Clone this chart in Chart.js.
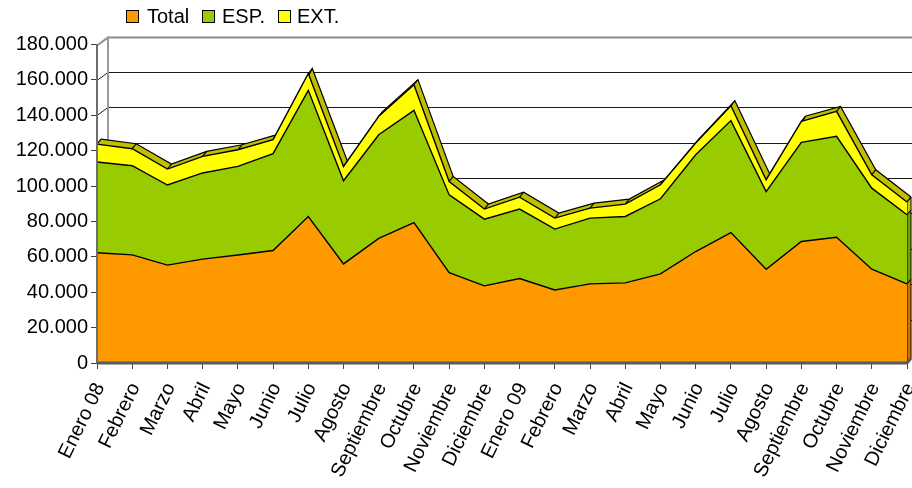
<!DOCTYPE html>
<html>
<head>
<meta charset="utf-8">
<script src="https://cdn.jsdelivr.net/npm/chart.js@4.4.1/dist/chart.umd.min.js"></script>
<style>
  html, body { margin: 0; padding: 0; background: #fff; }
  #wrap { width: 912px; height: 488px; }
</style>
</head>
<body>
<div id="wrap"><canvas id="chart" width="912" height="488"></canvas></div>
<script>
// ── DATA ──
const months = [
    'Enero 08','Febrero','Marzo','Abril','Mayo','Junio','Julio','Agosto','Septiembre','Octubre','Noviembre','Diciembre',
    'Enero 09','Febrero','Marzo','Abril','Mayo','Junio','Julio','Agosto','Septiembre','Octubre','Noviembre','Diciembre'
];
const seriesNames = ['Total', 'ESP.', 'EXT.'];
const totalValues = [62300, 61100, 55300, 58700, 61000, 63600, 82800, 56000, 70400, 79400, 51100, 43600,
                     47700, 41300, 44700, 45300, 50400, 63000, 73700, 53000, 68700, 71100, 53000, 44700];
const espValues   = [51300, 50400, 45300, 48700, 50100, 54700, 71300, 47000, 58600, 63400, 43900, 37700,
                     39300, 34400, 37200, 37500, 42400, 54700, 63300, 43900, 56000, 57000, 45800, 39100];
const extValues   = [10100, 9600, 9000, 9400, 9400, 7900, 9500, 8100, 10400, 14500, 7600, 5700,
                     6700, 6200, 5600, 7000, 7900, 6600, 8400, 6700, 11900, 14100, 7600, 7200];
const yMin = 0, yMax = 180000, yStep = 20000;

// ── STYLE ──
const FONT = "'Liberation Sans', Arial, sans-serif";
const colors = ['#FF9900', '#99CC00', '#FFFF00'];
const sideColors = ['#C87800', '#76A000', '#C8C800'];
const depthColor = '#BFBF00';
const WALL_DX = 11, WALL_DY = -8;   // back wall offset
const SER_DX = 4, SER_DY = -5;      // series slab depth

function fmt(v) {
    return String(v).replace(/\B(?=(\d{3})+(?!\d))/g, '.');
}

// ── 3D-ish DECORATION ──
const depthPlugin = {
    id: 'depth',
    beforeDatasetsDraw(chart) {
        const { ctx, chartArea: a, scales: { y } } = chart;
        ctx.save();

        // back wall gridlines + left wall diagonals
        y.ticks.forEach(t => {
            if (t.value === yMin) return;
            const py = Math.round(y.getPixelForValue(t.value)) + 0.5;
            const isTop = t.value === yMax;
            ctx.strokeStyle = isTop ? '#8c8c8c' : '#1a1a1a';
            ctx.lineWidth = isTop ? 2 : 1;
            ctx.beginPath();
            ctx.moveTo(a.left, py);
            ctx.lineTo(a.left + WALL_DX, py + WALL_DY);
            ctx.lineTo(chart.width, py + WALL_DY);
            ctx.stroke();
        });
        // back wall left edge
        ctx.strokeStyle = '#9a9a9a';
        ctx.lineWidth = 2;
        ctx.beginPath();
        ctx.moveTo(a.left + WALL_DX, y.getPixelForValue(yMax) + WALL_DY);
        ctx.lineTo(a.left + WALL_DX, a.bottom + WALL_DY);
        ctx.stroke();

        // side faces at the right end
        const metas = [0, 1, 2].map(i => chart.getDatasetMeta(i).data);
        const n = metas[0].length - 1;
        let prevY = a.bottom;
        metas.forEach((pts, i) => {
            const p = pts[n];
            ctx.fillStyle = sideColors[i];
            ctx.beginPath();
            ctx.moveTo(p.x, prevY);
            ctx.lineTo(p.x, p.y);
            ctx.lineTo(p.x + SER_DX, p.y + SER_DY);
            ctx.lineTo(p.x + SER_DX, prevY + SER_DY);
            ctx.closePath();
            ctx.fill();
            ctx.strokeStyle = '#000';
            ctx.lineWidth = 1;
            ctx.stroke();
            prevY = p.y;
        });

        // top surface of the stack
        const top = metas[2];
        ctx.fillStyle = depthColor;
        for (let i = 0; i < top.length - 1; i++) {
            const p = top[i], q = top[i + 1];
            ctx.beginPath();
            ctx.moveTo(p.x, p.y);
            ctx.lineTo(q.x, q.y);
            ctx.lineTo(q.x + SER_DX, q.y + SER_DY);
            ctx.lineTo(p.x + SER_DX, p.y + SER_DY);
            ctx.closePath();
            ctx.fill();
        }
        ctx.strokeStyle = '#000';
        ctx.lineWidth = 1.2;
        ctx.beginPath();
        top.forEach((p, i) => {
            if (i === 0) ctx.moveTo(p.x + SER_DX, p.y + SER_DY);
            else ctx.lineTo(p.x + SER_DX, p.y + SER_DY);
        });
        ctx.stroke();
        top.forEach(p => {
            ctx.beginPath();
            ctx.moveTo(p.x, p.y);
            ctx.lineTo(p.x + SER_DX, p.y + SER_DY);
            ctx.stroke();
        });
        ctx.restore();
    },
    afterDatasetsDraw(chart) {
        const { ctx, chartArea: a } = chart;
        ctx.save();
        // floor
        ctx.strokeStyle = '#5a5a5a';
        ctx.lineWidth = 3;
        ctx.beginPath();
        ctx.moveTo(a.left, a.bottom);
        ctx.lineTo(a.right, a.bottom);
        ctx.lineTo(a.right + SER_DX, a.bottom + SER_DY);
        ctx.stroke();
        // front value axis
        ctx.strokeStyle = '#6e6e6e';
        ctx.lineWidth = 2;
        ctx.beginPath();
        ctx.moveTo(a.left, a.top);
        ctx.lineTo(a.left, a.bottom);
        ctx.stroke();
        ctx.restore();
    },
    afterDraw(chart) {
        // legend
        const { ctx } = chart;
        const items = [[126, 147], [202, 222], [278, 297]];
        ctx.save();
        ctx.font = '20px ' + FONT;
        ctx.textBaseline = 'middle';
        seriesNames.forEach((name, i) => {
            const [bx, tx] = items[i];
            ctx.fillStyle = colors[i];
            ctx.fillRect(bx + 0.5, 10.5, 12, 12);
            ctx.strokeStyle = '#000';
            ctx.lineWidth = 1;
            ctx.strokeRect(bx + 0.5, 10.5, 12, 12);
            ctx.fillStyle = '#000';
            ctx.fillText(name, tx, 17);
        });
        ctx.restore();
    }
};

const commonDs = {
    borderColor: '#000',
    borderWidth: 1.4,
    pointRadius: 0,
    pointHoverRadius: 0,
    tension: 0,
};

new Chart(document.getElementById('chart'), {
    type: 'line',
    data: {
        labels: months,
        datasets: [
            { ...commonDs, label: seriesNames[0], data: totalValues, backgroundColor: colors[0], fill: 'origin' },
            { ...commonDs, label: seriesNames[1], data: espValues,   backgroundColor: colors[1], fill: '-1' },
            { ...commonDs, label: seriesNames[2], data: extValues,   backgroundColor: colors[2], fill: '-1' },
        ]
    },
    options: {
        responsive: false,
        animation: false,
        layout: { padding: { top: 44.5, right: 5, left: 0, bottom: 0 } },
        plugins: { legend: { display: false }, tooltip: { enabled: false } },
        scales: {
            x: {
                stacked: true,
                offset: false,
                grid: { drawOnChartArea: false, drawTicks: true, tickLength: 6, color: '#444' },
                border: { display: false },
                ticks: {
                    color: '#000',
                    font: { family: FONT, size: 20 },
                    minRotation: 64,
                    maxRotation: 64,
                    autoSkip: false,
                    padding: 10,
                    labelOffset: 3,
                },
                afterFit(scale) {
                    scale.height = 125;
                    scale.paddingLeft = 0;
                    scale.paddingRight = 0;
                }
            },
            y: {
                stacked: true,
                min: yMin,
                max: yMax,
                grid: { drawOnChartArea: false, drawTicks: true, tickLength: 6, color: '#444' },
                border: { display: false },
                ticks: {
                    stepSize: yStep,
                    color: '#000',
                    font: { family: FONT, size: 20 },
                    padding: 3,
                    callback: v => fmt(v)
                },
                afterFit(scale) { scale.width = 97; }
            }
        }
    },
    plugins: [depthPlugin]
});
</script>
</body>
</html>
